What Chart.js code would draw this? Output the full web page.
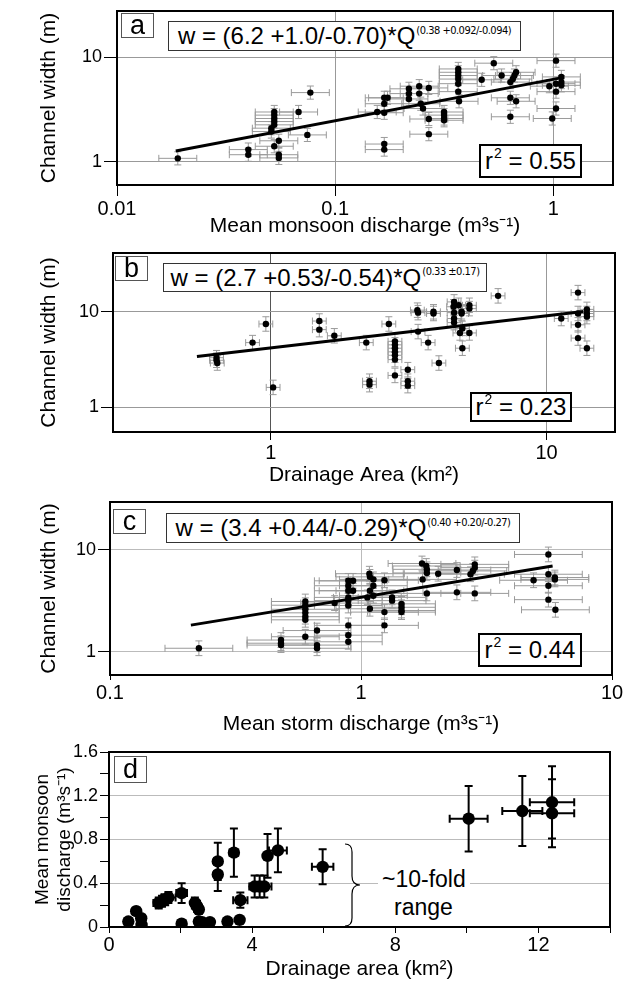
<!DOCTYPE html>
<html>
<head>
<meta charset="utf-8">
<script src="https://cdn.jsdelivr.net/npm/chart.js@4.4.1/dist/chart.umd.min.js"></script>
<style>
    body { margin: 0; width: 644px; height: 983px; background: #fff; position: relative; overflow: hidden; font-family: "Liberation Sans", Arial, sans-serif; }
    canvas { position: absolute; left: 0; }
    .box { position: absolute; background: #fff; box-sizing: border-box; display: flex; align-items: center; justify-content: center; white-space: nowrap; color: #000; }
    .let { border: 1px solid #555; font-size: 27px; }
    .eq { border: 1px solid #333; font-size: 24px; }
    .eq .sup { font-family: "DejaVu Sans Condensed", "Liberation Sans", sans-serif; font-size: 11px; letter-spacing: -0.5px; position: relative; top: -6px; margin-left: 1px; }
    .r2 { border: 2px solid #000; font-size: 24px; }
    .r2 .s2 { font-size: 14px; position: relative; top: -8px; margin-left: 1px; }
    .note { position: absolute; font-size: 23px; background: #fff; white-space: nowrap; }
</style>
</head>
<body>
<canvas id="chart_a" width="644" height="245" style="top:0px"></canvas>
<canvas id="chart_b" width="644" height="255" style="top:240px"></canvas>
<canvas id="chart_c" width="644" height="256" style="top:489px"></canvas>
<canvas id="chart_d" width="644" height="244" style="top:739px"></canvas>

<div class="box let" style="left:121px;top:13px;width:33px;height:25px">a</div>
<div class="box eq" style="left:168px;top:21px;width:353px;height:30px">w = (6.2 +1.0/-0.70)*Q<span class="sup">(0.38 +0.092/-0.094)</span></div>
<div class="box r2" style="left:479px;top:144px;width:103px;height:34px">r<span class="s2">2</span>&nbsp;= 0.55</div>

<div class="box let" style="left:115px;top:256px;width:33px;height:25px">b</div>
<div class="box eq" style="left:163px;top:263px;width:324px;height:29px">w = (2.7 +0.53/-0.54)*Q<span class="sup">(0.33 ±0.17)</span></div>
<div class="box r2" style="left:470px;top:392px;width:102px;height:30px">r<span class="s2">2</span>&nbsp;= 0.23</div>

<div class="box let" style="left:113px;top:509px;width:33px;height:25px">c</div>
<div class="box eq" style="left:166px;top:513px;width:354px;height:30px">w = (3.4 +0.44/-0.29)*Q<span class="sup">(0.40 +0.20/-0.27)</span></div>
<div class="box r2" style="left:478px;top:633px;width:104px;height:34px">r<span class="s2">2</span>&nbsp;= 0.44</div>

<div class="box let" style="left:114px;top:756px;width:33px;height:27px">d</div>
<svg style="position:absolute;left:343px;top:843px" width="20" height="84">
    <path d="M2 1 Q9 1 9 9 L9 33 Q9 42 17 42 Q9 42 9 51 L9 75 Q9 83 2 83" fill="none" stroke="#000" stroke-width="1.2"/>
</svg>
<div class="note" style="left:378px;top:866px;padding:0 4px">~10-fold</div>
<div class="note" style="left:394px;top:894px">range</div>

<script>
    // a : largeur du chenal vs débit moyen de mousson
    const aQ = [0.019, 0.040, 0.040, 0.0526, 0.0526, 0.0526, 0.0526, 0.0526, 0.051, 0.051, 0.0552, 0.0526, 0.0552, 0.0552,
        0.068, 0.077, 0.0746, 0.156, 0.168, 0.168, 0.174, 0.168, 0.168, 0.168, 0.218, 0.218, 0.218, 0.243, 0.243, 0.269,
        0.247, 0.253, 0.269, 0.269, 0.316, 0.316, 0.316, 0.316, 0.367, 0.367, 0.367, 0.367, 0.367, 0.367, 0.37, 0.47,
        0.534, 0.58, 0.636, 0.653, 0.664, 0.676, 0.636, 0.676, 0.636, 0.96, 1.03, 1.03, 1.03, 1.09, 1.09, 1.09, 1.03, 0.99];
    const aW = [1.08, 1.31, 1.17, 3.0, 2.8, 2.6, 2.43, 2.26, 2.1, 1.95, 1.59, 1.41, 1.17, 1.09,
        3.0, 4.6, 1.81, 3.0, 3.6, 2.95, 4.1, 4.1, 1.48, 1.31, 5.0, 4.5, 4.0, 5.3, 4.5, 5.1,
        3.6, 3.24, 2.57, 1.84, 3.0, 2.8, 2.6, 2.5, 7.75, 7.2, 6.7, 6.2, 5.6, 4.7, 3.8, 6.1,
        8.8, 6.7, 5.8, 6.2, 6.7, 7.2, 4.1, 3.8, 2.7, 5.3, 9.3, 5.6, 4.7, 6.5, 5.8, 5.4, 3.24, 2.6];
    const aFitQ = [0.0186, 1.1];
    const aFitW = [1.27, 6.4];
    const aErrLog = [0.087, 0.063];     // demi-barres d'erreur en décades (x, y)
    const aTicksX = [0.01, 0.1, 1];
    const aTicksY = [1, 10];

    // b : largeur vs aire drainée
    const bA = [0.636, 0.636, 0.64, 0.859, 0.96, 1.02, 1.50, 1.50, 1.70, 2.22, 2.68, 2.82, 2.82, 2.82, 2.82, 2.82, 2.82, 2.82,
        3.14, 3.14, 3.14, 2.28, 2.28, 3.40, 3.42, 3.42, 3.72, 3.89, 3.89, 4.07, 4.62, 4.60, 4.62, 4.62, 4.62,
        4.80, 4.92, 4.92, 4.95, 4.85, 4.95, 5.25, 5.25, 5.25, 6.67, 11.3, 13.0, 13.0, 13.0, 13.0, 14.0, 14.0, 14.0, 14.0];
    const bW = [3.3, 3.1, 2.9, 4.75, 7.45, 1.61, 8.0, 6.5, 5.6, 4.75, 7.45, 4.9, 4.5, 4.15, 3.8, 3.5, 3.15, 2.15,
        2.47, 1.87, 1.68, 1.87, 1.72, 10.4, 9.8, 6.2, 4.75, 10.0, 9.6, 2.9, 12.7, 11.3, 9.8, 8.5, 7.7,
        11.7, 10.0, 9.6, 6.7, 6.0, 4.15, 11.7, 10.8, 6.0, 14.7, 8.5, 15.9, 9.6, 7.3, 5.3, 10.6, 9.6, 8.9, 4.15];
    const bFitA = [0.54, 13.6];
    const bFitW = [3.4, 10.1];
    const bErrLog = [0.025, 0.076];
    const bTicksX = [1, 10];
    const bTicksY = [1, 10];

    // c : largeur vs débit moyen d'orage
    const cQ = [0.226, 0.48, 0.48, 0.48, 0.60, 0.60, 0.60, 0.60, 0.60, 0.60, 0.60, 0.668, 0.668, 0.668, 0.785,
        0.89, 0.89, 0.89, 0.89, 0.89, 0.89, 0.89, 0.89, 0.89, 0.93, 0.93,
        1.08, 1.085, 1.12, 1.12, 1.085, 1.12, 1.06, 1.085, 1.24, 1.24, 1.24, 1.33, 1.33, 1.45, 1.45, 1.45, 1.45,
        1.75, 1.82, 1.83, 1.83, 1.76, 1.83, 2.03, 2.41, 2.41, 2.73, 2.79, 2.84, 2.84, 2.84, 4.87,
        5.58, 5.58, 5.58, 5.58, 5.92, 5.92, 5.95];
    const cW = [1.08, 1.30, 1.21, 1.16, 3.1, 2.85, 2.6, 2.4, 2.2, 2.05, 1.4, 1.61, 1.16, 1.08, 2.99,
        4.94, 4.42, 3.95, 3.4, 3.16, 2.83, 1.81, 1.45, 1.25, 4.94, 3.95,
        5.8, 5.4, 5.1, 4.42, 3.95, 3.53, 3.4, 2.63, 5.0, 2.44, 1.81, 3.4, 3.16, 2.94, 2.72, 2.53, 2.44,
        7.3, 6.9, 6.4, 5.9, 5.1, 3.72, 5.8, 6.3, 3.81, 5.73, 6.17, 6.65, 7.16, 3.72, 5.0,
        8.95, 5.73, 4.42, 3.23, 5.32, 5.1, 2.57];
    const cFitQ = [0.21, 5.8];
    const cFitW = [1.82, 6.9];
    const cErrLog = [0.135, 0.072];
    const cTicksX = [0.1, 1, 10];
    const cTicksY = [1, 10];

    // d : débit moyen de mousson vs aire drainée
    const dA = [0.54, 0.76, 0.90, 0.91, 1.39, 1.48, 1.57, 1.66, 2.03, 2.03, 2.40, 2.46, 2.51, 2.51, 2.60, 2.82,
        3.04, 3.04, 3.49, 3.31, 3.65, 3.67, 4.07, 4.21, 4.34, 4.43, 4.72, 5.97, 10.05, 11.55, 12.38, 12.38];
    const dQ = [0.05, 0.145, 0.08, 0.02, 0.22, 0.235, 0.25, 0.27, 0.31, 0.03, 0.22, 0.19, 0.16, 0.05, 0.045, 0.045,
        0.60, 0.48, 0.68, 0.05, 0.065, 0.245, 0.37, 0.37, 0.37, 0.65, 0.70, 0.55, 0.99, 1.06, 1.14, 1.04];
    const dAErr = [0.1, 0.1, 0.1, 0.1, 0.15, 0.15, 0.15, 0.2, 0.15, 0.1, 0.1, 0.1, 0.1, 0.1, 0.1, 0.1,
        0.1, 0.1, 0.12, 0.1, 0.1, 0.2, 0.15, 0.15, 0.2, 0.1, 0.25, 0.3, 0.53, 0.56, 0.62, 0.62];
    const dQErr = [0.02, 0.03, 0.02, 0.02, 0.05, 0.05, 0.05, 0.05, 0.09, 0.02, 0.05, 0.05, 0.04, 0.02, 0.02, 0.02,
        0.17, 0.15, 0.22, 0.02, 0.02, 0.07, 0.1, 0.1, 0.1, 0.2, 0.2, 0.16, 0.3, 0.32, 0.33, 0.31];
    const dTicksX = [0, 2, 4, 6, 8, 10, 12, 14];
    const dLabelsX = ['0', '', '4', '', '8', '', '12', ''];
    const dTicksY = [0, 0.2, 0.4, 0.6, 0.8, 1.0, 1.2, 1.4, 1.6];
    const dLabelsY = ['0', '', '0.4', '', '0.8', '', '1.2', '', '1.6'];

    const fam = "'Liberation Sans', Arial, sans-serif";
    const tickFontY = {family: fam, size: 18};
    const tickFontX = {family: fam, size: 20};
    const titleFontX = {family: fam, size: 21};
    const titleFontY = {family: fam, size: 21};

    // barres d'erreur, dessinées sous les points
    var errorBars = {
        id: 'errorBars',
        beforeDatasetsDraw: function (chart, args, opts) {
            var ctx = chart.ctx, a = chart.chartArea;
            var sx = chart.scales.x, sy = chart.scales.y;
            ctx.save();
            ctx.beginPath();
            ctx.rect(a.left, a.top, a.right - a.left, a.bottom - a.top);
            ctx.clip();
            ctx.strokeStyle = opts.color;
            ctx.lineWidth = opts.width;
            chart.data.datasets.forEach(function (ds) {
                if (!ds.err) return;
                ds.data.forEach(function (p) {
                    var px = sx.getPixelForValue(p.x), py = sy.getPixelForValue(p.y);
                    var x0 = sx.getPixelForValue(p.xl), x1 = sx.getPixelForValue(p.xh);
                    var y0 = sy.getPixelForValue(p.yl), y1 = sy.getPixelForValue(p.yh);
                    var c = opts.cap;
                    ctx.beginPath();
                    ctx.moveTo(x0, py); ctx.lineTo(x1, py);
                    ctx.moveTo(px, y0); ctx.lineTo(px, y1);
                    ctx.moveTo(x0, py - c); ctx.lineTo(x0, py + c);
                    ctx.moveTo(x1, py - c); ctx.lineTo(x1, py + c);
                    ctx.moveTo(px - c, y0); ctx.lineTo(px + c, y0);
                    ctx.moveTo(px - c, y1); ctx.lineTo(px + c, y1);
                    ctx.stroke();
                });
            });
            ctx.restore();
        }
    };

    // cadre noir autour de la zone de tracé
    var frame = {
        id: 'frame',
        afterDraw: function (chart) {
            var ctx = chart.ctx, a = chart.chartArea;
            ctx.save();
            ctx.strokeStyle = '#000';
            ctx.lineWidth = 2;
            ctx.strokeRect(a.left, a.top, a.right - a.left, a.bottom - a.top);
            ctx.restore();
        }
    };

    function logPoints(xs, ys, err) {
        var fx = Math.pow(10, err[0]), fy = Math.pow(10, err[1]);
        return xs.map(function (x, i) {
            return {x: x, y: ys[i], xl: x / fx, xh: x * fx, yl: ys[i] / fy, yh: ys[i] * fy};
        });
    }

    function linPoints(xs, ys, ex, ey) {
        return xs.map(function (x, i) {
            return {x: x, y: ys[i], xl: x - ex[i], xh: x + ex[i], yl: ys[i] - ey[i], yh: ys[i] + ey[i]};
        });
    }

    function axis(o) {
        return {
            type: o.type, position: o.pos, min: o.min, max: o.max,
            afterBuildTicks: function (s) { s.ticks = o.ticks.map(function (v) { return {value: v}; }); },
            afterFit: function (s) {
                if (o.pos === 'left') s.width = o.size; else s.height = o.size;
                s.paddingTop = s.paddingBottom = s.paddingLeft = s.paddingRight = 0;
            },
            border: {display: false},
            grid: {
                color: function (c) { return (c.tick && o.grid[c.tick.value]) || 'rgba(0,0,0,0)'; },
                tickColor: '#000', tickLength: o.tickLen, lineWidth: 1
            },
            ticks: {
                font: o.font, color: '#000', padding: o.pad, maxRotation: 0, autoSkip: false,
                callback: function (v, i) { return o.labels[i]; }
            },
            title: {display: true, text: o.title, font: o.tfont, color: '#000', padding: o.tpad}
        };
    }

    function panel(id, p) {
        var datasets = [
            {data: p.pts, err: true, backgroundColor: '#000', borderWidth: 0, pointRadius: p.r}
        ];
        if (p.fit) {
            datasets.unshift({data: p.fit, showLine: true, borderColor: '#000', borderWidth: 3, pointRadius: 0});
        }
        return new Chart(document.getElementById(id), {
            type: 'scatter',
            data: {datasets: datasets},
            options: {
                responsive: false, animation: false, devicePixelRatio: 1,
                layout: {padding: {top: p.padTop, right: p.padRight, left: 0, bottom: 0}},
                plugins: {legend: {display: false}, tooltip: {enabled: false}, errorBars: p.eb},
                scales: {x: axis(p.x), y: axis(p.y)}
            },
            plugins: [errorBars, frame]
        });
    }

    function fitLine(xs, ys) {
        return xs.map(function (x, i) { return {x: x, y: ys[i]}; });
    }

    var grayBars = {color: '#9a9a9a', width: 1, cap: 3.5};
    var yTitle = 'Channel width (m)';

    panel('chart_a', {
        pts: logPoints(aQ, aW, aErrLog), fit: fitLine(aFitQ, aFitW), r: 3.2, eb: grayBars,
        padTop: 11, padRight: 31,
        x: {type: 'logarithmic', pos: 'bottom', min: 0.01, max: 1.88, ticks: aTicksX, labels: aTicksX.map(String),
            grid: {0.1: '#999', 1: '#999'}, size: 60, tickLen: 11, pad: 1, font: tickFontX,
            title: 'Mean monsoon discharge (m³s⁻¹)', tfont: titleFontX, tpad: {top: 0, bottom: 6}},
        y: {type: 'logarithmic', pos: 'left', min: 0.608, max: 27.8, ticks: aTicksY, labels: aTicksY.map(String),
            grid: {1: '#999', 10: '#999'}, size: 117, tickLen: 13, pad: 2, font: tickFontY,
            title: yTitle, tfont: titleFontY, tpad: {top: 37, bottom: 0}}
    });

    panel('chart_b', {
        pts: logPoints(bA, bW, bErrLog), fit: fitLine(bFitA, bFitW), r: 3.2, eb: grayBars,
        padTop: 13, padRight: 29,
        x: {type: 'logarithmic', pos: 'bottom', min: 0.268, max: 17.7, ticks: bTicksX, labels: bTicksX.map(String),
            grid: {1: '#555', 10: '#999'}, size: 63, tickLen: 8, pad: 1, font: tickFontX,
            title: 'Drainage Area (km²)', tfont: titleFontX, tpad: {top: 0, bottom: 7}},
        y: {type: 'logarithmic', pos: 'left', min: 0.548, max: 41.4, ticks: bTicksY, labels: bTicksY.map(String),
            grid: {1: '#999', 10: '#999'}, size: 113, tickLen: 12, pad: 2, font: tickFontY,
            title: yTitle, tfont: titleFontY, tpad: {top: 37, bottom: 0}}
    });

    panel('chart_c', {
        pts: logPoints(cQ, cW, cErrLog), fit: fitLine(cFitQ, cFitW), r: 3.2, eb: grayBars,
        padTop: 13, padRight: 32,
        x: {type: 'logarithmic', pos: 'bottom', min: 0.1, max: 10, ticks: cTicksX, labels: cTicksX.map(String),
            grid: {1: '#bbb'}, size: 70, tickLen: 5, pad: 1, font: tickFontX,
            title: 'Mean storm discharge (m³s⁻¹)', tfont: titleFontX, tpad: {top: 0, bottom: 8}},
        y: {type: 'logarithmic', pos: 'left', min: 0.591, max: 29.2, ticks: cTicksY, labels: cTicksY.map(String),
            grid: {1: '#bbb', 10: '#bbb'}, size: 110, tickLen: 12, pad: 2, font: tickFontY,
            title: yTitle, tfont: titleFontY, tpad: {top: 37, bottom: 0}}
    });

    panel('chart_d', {
        pts: linPoints(dA, dQ, dAErr, dQErr), fit: null, r: 6.2, eb: {color: '#000', width: 2, cap: 4},
        padTop: 13, padRight: 34,
        x: {type: 'linear', pos: 'bottom', min: 0, max: 14, ticks: dTicksX, labels: dLabelsX,
            grid: {}, size: 56, tickLen: 6, pad: 0, font: tickFontX,
            title: 'Drainage area (km²)', tfont: titleFontX, tpad: {top: 0, bottom: 1}},
        y: {type: 'linear', pos: 'left', min: 0, max: 1.6, ticks: dTicksY, labels: dLabelsY,
            grid: {0.4: '#bbb', 0.8: '#bbb', 1.2: '#bbb'}, size: 109, tickLen: 9, pad: 2, font: tickFontY,
            title: ['Mean monsoon', 'discharge (m³s⁻¹)'], tfont: {family: fam, size: 19}, tpad: {top: 31, bottom: 0}}
    });
</script>
</body>
</html>
